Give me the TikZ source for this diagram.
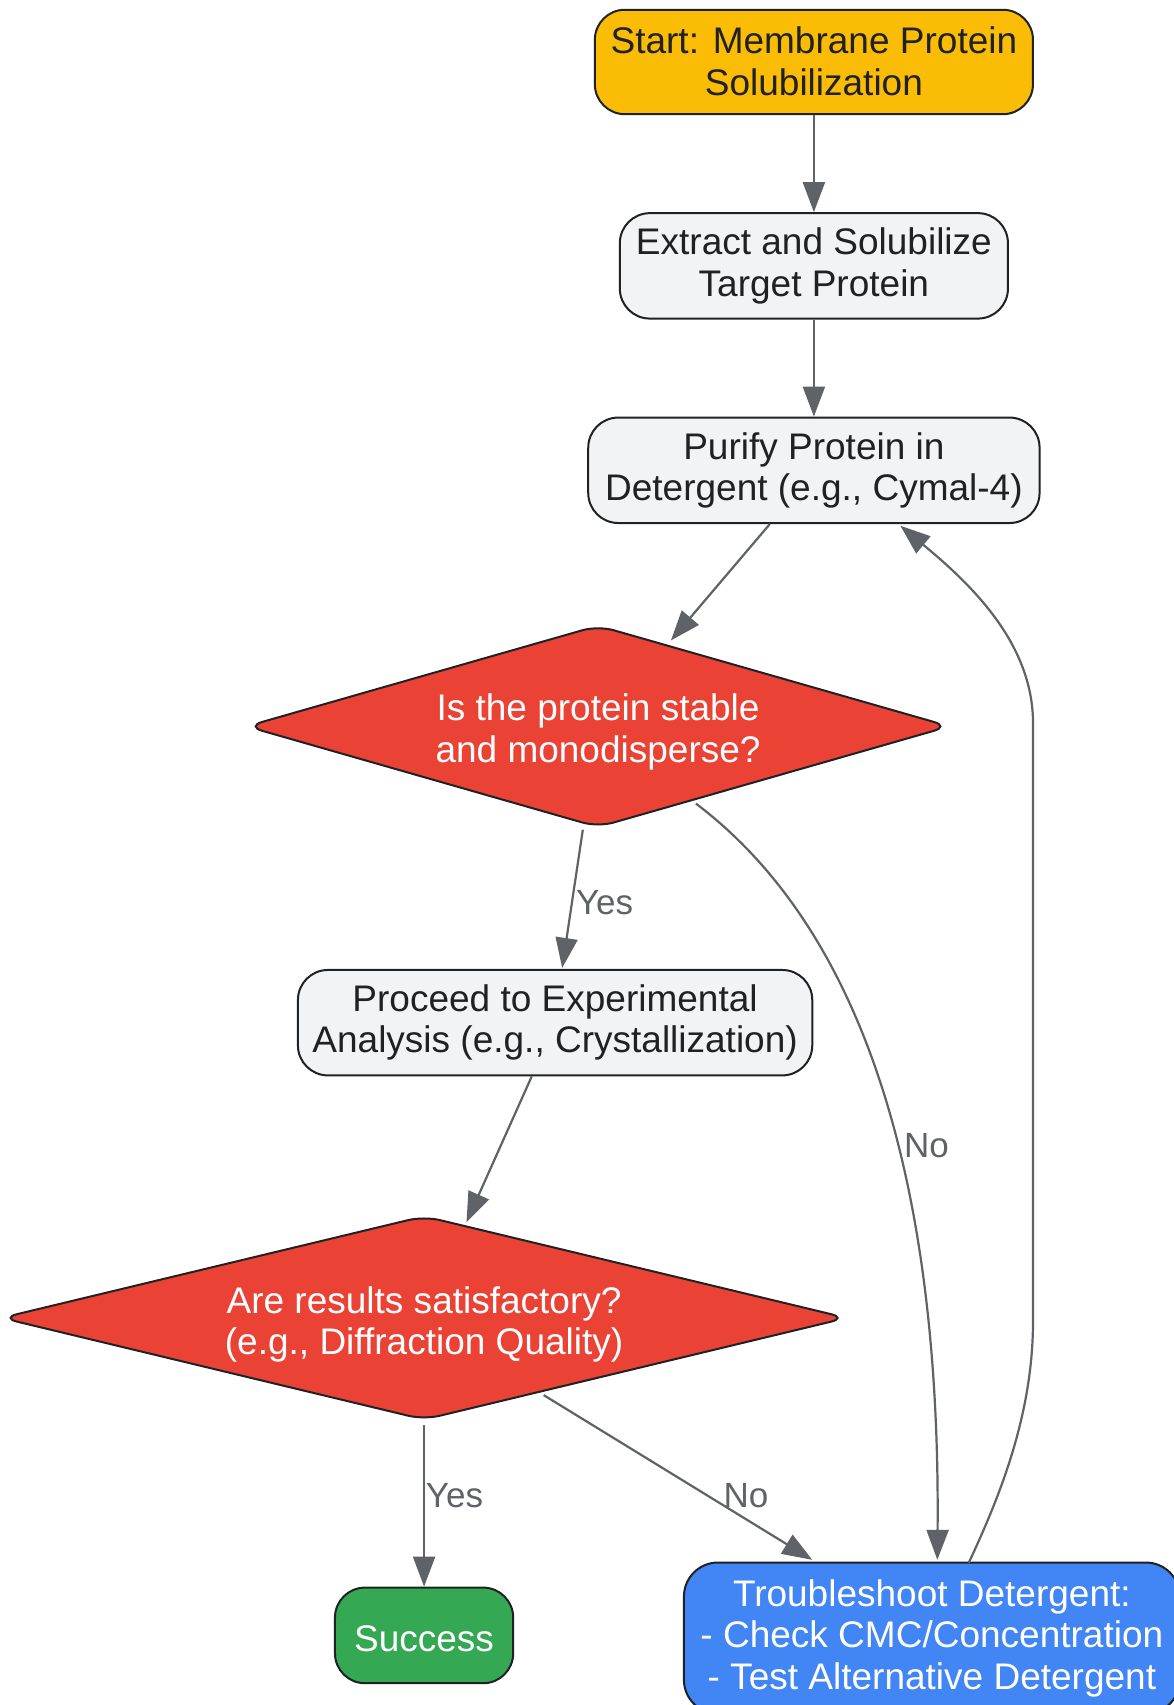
\documentclass[tikz,border=0pt]{standalone}
\usepackage{fontspec}
\setmainfont{Liberation Sans}
\usetikzlibrary{shapes.geometric,arrows.meta,calc}
\definecolor{edgec}{HTML}{5F6368}
\definecolor{darkt}{HTML}{202124}
\definecolor{yel}{HTML}{FBBC05}
\definecolor{gry}{HTML}{F1F3F4}
\definecolor{redc}{HTML}{EA4335}
\definecolor{grn}{HTML}{34A853}
\definecolor{blu}{HTML}{4285F4}
\begin{document}
\begin{tikzpicture}[x=0.54355pt,y=-0.54355pt,
  box/.style={draw=darkt, line width=1pt, rounded corners=15pt, align=center, inner sep=0pt,
    font=\fontsize{18.5}{20.7}\selectfont, text=darkt,
    execute at begin node=\rule{0pt}{17pt}, execute at end node=\rule[-1pt]{0pt}{0pt}},
  dec/.style={draw=darkt, line width=1pt, shape=diamond, rounded corners=8pt, inner sep=0pt, fill=redc},
  dtext/.style={align=center, text=white, inner sep=0pt, font=\fontsize{18.5}{20.7}\selectfont},
  flow/.style={draw=edgec, line width=1.1pt, -{Triangle[length=15pt,width=11pt]}},
  elabel/.style={text=edgec, inner sep=0pt, font=\fontsize{17.5}{20}\selectfont}
]
\path[use as bounding box, fill=white] (0,0) rectangle (1079,1568);

\node[box, fill=yel, minimum width=219pt, minimum height=52.2pt] (start) at (748.5,57)
  {Start: Membrane Protein\\Solubilization};
\node[box, fill=gry, minimum width=194pt, minimum height=52.7pt] (extract) at (748.5,244.5)
  {Extract and Solubilize\\Target Protein};
\node[box, fill=gry, minimum width=225.6pt, minimum height=52.7pt] (purify) at (748.5,432.5)
  {Purify Protein in\\Detergent (e.g., Cymal-4)};
\node[dec, minimum width=351.7pt, minimum height=101pt] (d1) at (550,668) {};
\node[dtext] (d1t) at (550,673) {Is the protein stable\\and monodisperse?};
\node[box, fill=gry, minimum width=257.1pt, minimum height=52.7pt] (proceed) at (510.5,940.5)
  {Proceed to Experimental\\Analysis (e.g., Crystallization)};
\node[dec, minimum width=422.9pt, minimum height=102pt] (d2) at (390,1212) {};
\node[dtext] (d2t) at (390,1218) {Are results satisfactory?\\(e.g., Diffraction Quality)};
\node[box, fill=grn, text=white, minimum width=89.1pt, minimum height=47.8pt] (success) at (390,1504)
  {Success};
\node[box, fill=blu, text=white, minimum width=247.9pt, minimum height=75.6pt, rounded corners=17pt] (trouble) at (857,1506.5)
  {Troubleshoot Detergent:\\- Check CMC/Concentration\\- Test Alternative Detergent};

\draw[flow] (start.south) -- (extract.north);
\draw[flow] (extract.south) -- (purify.north);
\draw[flow] ($(purify.south)+(-40.5,0)$) -- ($(d1.center)+(67,-79)$);
\draw[flow] ($(d1.center)+(-14,95)$) -- ($(proceed.north)+(6.5,-1)$);
\node[elabel] (l1) at (556,830) {Yes};
\draw[flow] ($(d1.center)+(90,71)$) .. controls (800,860) and (865,1100) .. ($(trouble.center)+(5,-72)$);
\node[elabel] (l2) at (852,1054) {No};
\draw[flow] ($(proceed.south)+(-21.5,0)$) -- ($(d2.center)+(39,-88)$);
\draw[flow] ($(d2.south)+(0,4)$) -- (success.north);
\node[elabel] (l3) at (418,1375) {Yes};
\draw[flow] ($(d2.center)+(110,71)$) -- ($(trouble.center)+(-110,-72)$);
\node[elabel] (l4) at (686,1375) {No};
\draw[flow] ($(trouble.center)+(34,-69.5)$) .. controls (920,1375) and (950,1300) .. (950,1215)
  -- (950,665) .. controls (950,590) and (890,535) .. ($(purify.center)+(79.5,51)$);
\end{tikzpicture}
\end{document}
